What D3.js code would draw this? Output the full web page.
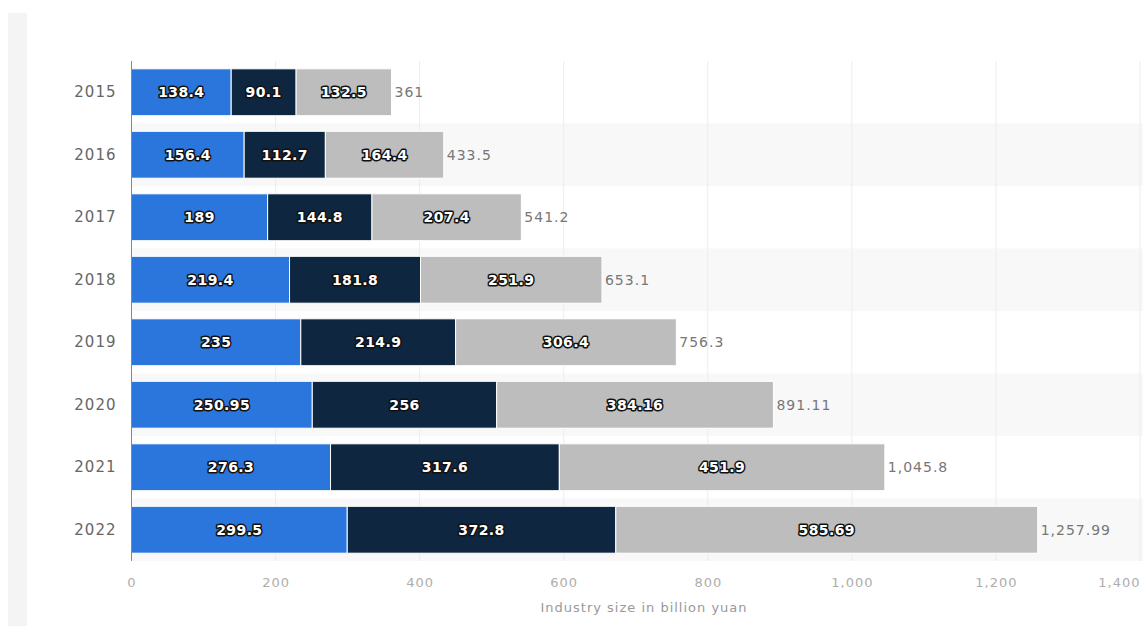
<!DOCTYPE html>
<html>
<head>
<meta charset="utf-8">
<script src="https://cdn.jsdelivr.net/npm/d3@7"></script>
<style>
  html, body { margin: 0; padding: 0; background: #fff; }
  svg { display: block; }
</style>
</head>
<body>
<svg id="chart" width="1143" height="626"></svg>
<script>
// Industry size by year, split into three segments (billion yuan)
const years = ["2015", "2016", "2017", "2018", "2019", "2020", "2021", "2022"];
const segmentA = [138.4, 156.4, 189, 219.4, 235, 250.95, 276.3, 299.5];
const segmentB = [90.1, 112.7, 144.8, 181.8, 214.9, 256, 317.6, 372.8];
const segmentC = [132.5, 164.4, 207.4, 251.9, 306.4, 384.16, 451.9, 585.69];
const totals = [361, 433.5, 541.2, 653.1, 756.3, 891.11, 1045.8, 1257.99];
const xTicks = [0, 200, 400, 600, 800, 1000, 1200, 1400];
const axisTitle = "Industry size in billion yuan";

const seriesColors = ["#2a76dc", "#0e2640", "#bdbdbd"];
const seriesValues = [segmentA, segmentB, segmentC];

const svg = d3.select("#chart");
const W = 1143, H = 626;
const plot = { left: 131.5, right: 1140, top: 61, bottom: 561 };
const FONT = "DejaVu Sans, sans-serif";

// page edge strip on the left
svg.append("rect").attr("x", 8).attr("y", 13).attr("width", 19).attr("height", H - 13)
  .attr("fill", "#f4f4f4");

const x = d3.scaleLinear().domain([0, 1400]).range([plot.left, plot.right]);
const y = d3.scaleBand().domain(years).range([plot.top, plot.bottom]).paddingInner(0.25).paddingOuter(0.125);

// alternating row stripes
svg.append("g").selectAll("rect")
  .data(years.filter((d, i) => i % 2 === 1))
  .join("rect")
  .attr("x", plot.left)
  .attr("width", W - plot.left)
  .attr("y", d => y(d) + y.bandwidth() / 2 - y.step() / 2)
  .attr("height", y.step())
  .attr("fill", "#f8f8f8");

// vertical grid lines
svg.append("g").selectAll("line")
  .data(xTicks.slice(1))
  .join("line")
  .attr("x1", d => x(d)).attr("x2", d => x(d))
  .attr("y1", plot.top).attr("y2", plot.bottom)
  .attr("stroke", "#ececec").attr("stroke-width", 1);

// stacked segments
const stackData = years.map((yr, i) => {
  let acc = 0;
  return seriesValues.map((vals, s) => {
    const seg = { year: yr, s, v: vals[i], x0: acc, x1: acc + vals[i] };
    acc += vals[i];
    return seg;
  });
}).flat();

svg.append("g").selectAll("rect")
  .data(stackData)
  .join("rect")
  .attr("x", d => x(d.x0))
  .attr("width", d => x(d.x1) - x(d.x0))
  .attr("y", d => y(d.year))
  .attr("height", y.bandwidth())
  .attr("fill", d => seriesColors[d.s])
  .attr("stroke", "#fff").attr("stroke-width", 1);

// value labels inside segments
svg.append("g").selectAll("text")
  .data(stackData)
  .join("text")
  .attr("x", d => (x(d.x0) + x(d.x1)) / 2)
  .attr("y", d => y(d.year) + y.bandwidth() / 2)
  .attr("dy", "0.36em")
  .attr("text-anchor", "middle")
  .attr("font-family", FONT)
  .attr("font-size", 14)
  .attr("font-weight", "bold")
  .attr("letter-spacing", 0.4)
  .attr("fill", "#fff")
  .attr("stroke", "#111")
  .attr("stroke-width", 3)
  .attr("stroke-linejoin", "round")
  .attr("paint-order", "stroke")
  .text(d => d.v);

// total labels at bar ends
const fmt = v => d3.format(",")(v);
svg.append("g").selectAll("text")
  .data(years)
  .join("text")
  .attr("x", (d, i) => x(totals[i]) + 3)
  .attr("y", d => y(d) + y.bandwidth() / 2)
  .attr("dy", "0.36em")
  .attr("font-family", FONT)
  .attr("font-size", 14)
  .attr("letter-spacing", 1)
  .attr("fill", "#777")
  .text((d, i) => fmt(totals[i]));

// category axis
const yAxis = svg.append("g")
  .attr("transform", `translate(${plot.left},0)`)
  .call(d3.axisLeft(y).tickSize(0).tickPadding(15));
yAxis.select(".domain").attr("stroke", "#888").attr("d", `M0,${plot.top}V${plot.bottom}`);
yAxis.selectAll("text")
  .attr("font-family", FONT)
  .attr("font-size", 15)
  .attr("letter-spacing", 1)
  .attr("fill", "#666");

// value axis
const xAxis = svg.append("g")
  .attr("transform", `translate(0,${plot.bottom})`)
  .call(d3.axisBottom(x).tickValues(xTicks).tickSize(0).tickPadding(17).tickFormat(d3.format(",")));
xAxis.select(".domain").remove();
xAxis.selectAll("text")
  .attr("font-family", FONT)
  .attr("font-size", 13)
  .attr("letter-spacing", 1)
  .attr("fill", "#adadad")
  .attr("text-anchor", d => d === 1400 ? "end" : "middle");

svg.append("text")
  .attr("x", 644)
  .attr("y", 612)
  .attr("text-anchor", "middle")
  .attr("font-family", FONT)
  .attr("font-size", 13)
  .attr("letter-spacing", 1)
  .attr("fill", "#999")
  .text(axisTitle);
</script>
</body>
</html>
